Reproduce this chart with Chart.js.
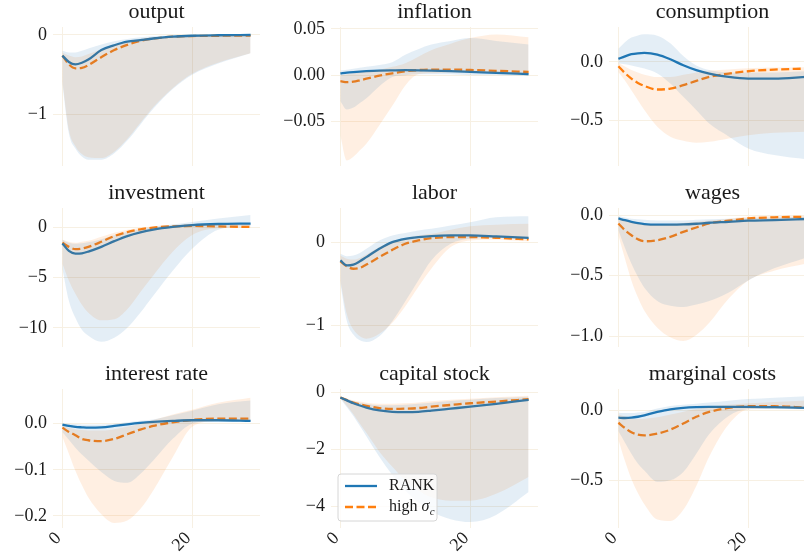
<!DOCTYPE html>
<html>
<head>
<meta charset="utf-8">
<script src="https://cdn.jsdelivr.net/npm/chart.js@4.4.1/dist/chart.umd.min.js"></script>
<style>
  html, body { margin: 0; padding: 0; background: #fff; overflow: hidden; }
  #grid { position: relative; width: 804px; height: 554px; overflow: hidden; }
  #grid canvas { position: absolute; }
</style>
</head>
<body>
<div id="grid"></div>
<script>
// impulse responses, periods 0..29 (read at these horizons)
const periods = [0, 1, 2, 3, 4, 6, 8, 10, 12, 14, 17, 20, 24, 29];
const seriesNames = ["RANK", "high σ_c"];
const titles = ["output", "inflation", "consumption", "investment", "labor", "wages",
  "interest rate", "capital stock", "marginal costs"];
const xTicks = [0, 20];

const outputRank   = [-0.26, -0.34, -0.37, -0.35, -0.31, -0.19, -0.13, -0.085, -0.065, -0.045, -0.022, -0.01, -0.004, -0.001];
const outputHigh   = [-0.26, -0.37, -0.42, -0.415, -0.38, -0.28, -0.19, -0.125, -0.075, -0.045, -0.022, -0.014, -0.01, -0.008];
const outputRankLo = [-0.62, -1.24, -1.43, -1.53, -1.57, -1.57, -1.49, -1.33, -1.13, -0.93, -0.68, -0.5, -0.36, -0.23];
const outputRankHi = [-0.2, -0.22, -0.22, -0.2, -0.17, -0.12, -0.08, -0.05, -0.03, -0.015, -0.006, -0.002, 0.0, 0.0];
const outputHighLo = [-0.58, -1.2, -1.4, -1.5, -1.54, -1.55, -1.47, -1.31, -1.11, -0.91, -0.67, -0.49, -0.35, -0.23];
const outputHighHi = [-0.22, -0.26, -0.28, -0.27, -0.24, -0.18, -0.12, -0.08, -0.05, -0.03, -0.015, -0.008, -0.004, -0.002];
const outputTicks  = [0, -1];

const inflRank   = [0.002, 0.0028, 0.0034, 0.0039, 0.0043, 0.0049, 0.0052, 0.0054, 0.0053, 0.005, 0.0044, 0.0036, 0.0025, 0.0012];
const inflHigh   = [-0.0065, -0.0075, -0.007, -0.0055, -0.0038, -0.0005, 0.002, 0.0042, 0.0055, 0.006, 0.0061, 0.0056, 0.0047, 0.0035];
const inflRankLo = [-0.028, -0.037, -0.035, -0.03, -0.025, -0.012, -0.002, 0.0, 0.001, 0.001, 0.001, 0.0, 0.0, -0.001];
const inflRankHi = [0.005, 0.006, 0.007, 0.008, 0.009, 0.011, 0.014, 0.022, 0.028, 0.033, 0.037, 0.04, 0.037, 0.033];
const inflHighLo = [-0.065, -0.092, -0.088, -0.081, -0.074, -0.054, -0.033, -0.011, 0.001, 0.002, 0.003, 0.003, 0.002, 0.001];
const inflHighHi = [0.0, 0.001, 0.002, 0.003, 0.004, 0.006, 0.009, 0.013, 0.02, 0.027, 0.034, 0.04, 0.044, 0.041];
const inflTicks  = [0.05, 0, -0.05];

const consRank   = [0.026, 0.048, 0.066, 0.074, 0.077, 0.063, 0.023, -0.029, -0.071, -0.1, -0.129, -0.143, -0.143, -0.129];
const consHigh   = [-0.037, -0.095, -0.143, -0.18, -0.206, -0.237, -0.229, -0.2, -0.163, -0.129, -0.1, -0.08, -0.066, -0.057];
const consRankLo = [-0.014, -0.02, -0.03, -0.043, -0.057, -0.1, -0.186, -0.3, -0.414, -0.53, -0.64, -0.743, -0.8, -0.837];
const consRankHi = [0.114, 0.17, 0.209, 0.228, 0.237, 0.225, 0.16, 0.05, -0.03, -0.07, -0.09, -0.09, -0.09, -0.08];
const consHighLo = [-0.086, -0.16, -0.243, -0.33, -0.414, -0.557, -0.643, -0.677, -0.694, -0.686, -0.657, -0.629, -0.609, -0.6];
const consHighHi = [-0.01, -0.04, -0.07, -0.09, -0.11, -0.13, -0.13, -0.11, -0.09, -0.075, -0.065, -0.055, -0.048, -0.045];
const consTicks  = [0, -0.5];

const invRank   = [-1.58, -2.32, -2.59, -2.56, -2.39, -1.92, -1.35, -0.84, -0.47, -0.2, 0.07, 0.25, 0.36, 0.4];
const invHigh   = [-1.52, -1.92, -2.15, -2.09, -1.92, -1.41, -0.84, -0.44, -0.17, 0.0, 0.13, 0.17, 0.12, 0.07];
const invRankLo = [-4.1, -7.3, -9.0, -10.2, -10.8, -11.4, -11.0, -10.0, -8.5, -6.8, -4.3, -2.1, -0.2, 0.2];
const invRankHi = [-1.2, -1.5, -1.6, -1.55, -1.45, -1.15, -0.75, -0.4, -0.15, 0.05, 0.3, 0.55, 0.9, 1.25];
const invHighLo = [-3.6, -5.3, -6.6, -7.7, -8.5, -9.26, -9.16, -8.15, -6.46, -4.78, -2.42, -0.74, -0.07, 0.0];
const invHighHi = [-1.2, -1.4, -1.5, -1.4, -1.3, -0.9, -0.5, -0.2, 0.0, 0.15, 0.28, 0.33, 0.33, 0.3];
const invTicks  = [0, -5, -10];

const labRank   = [-0.22, -0.28, -0.27, -0.23, -0.18, -0.08, 0.0, 0.04, 0.06, 0.073, 0.08, 0.08, 0.069, 0.052];
const labHigh   = [-0.23, -0.29, -0.32, -0.31, -0.27, -0.18, -0.093, -0.02, 0.02, 0.048, 0.06, 0.06, 0.052, 0.032];
const labRankLo = [-0.5, -0.95, -1.11, -1.18, -1.2, -1.13, -0.95, -0.71, -0.46, -0.22, -0.02, 0.04, 0.05, 0.04];
const labRankHi = [-0.14, -0.17, -0.16, -0.13, -0.08, 0.02, 0.08, 0.11, 0.14, 0.16, 0.2, 0.24, 0.3, 0.31];
const labHighLo = [-0.46, -0.87, -1.05, -1.13, -1.16, -1.1, -0.97, -0.77, -0.54, -0.32, -0.06, 0.02, 0.03, 0.01];
const labHighHi = [-0.16, -0.2, -0.21, -0.19, -0.15, -0.06, 0.01, 0.05, 0.08, 0.1, 0.15, 0.19, 0.21, 0.22];
const labTicks  = [0, -1];

const wageRank   = [-0.028, -0.043, -0.056, -0.067, -0.075, -0.08, -0.08, -0.078, -0.072, -0.064, -0.056, -0.047, -0.042, -0.033];
const wageHigh   = [-0.07, -0.125, -0.167, -0.2, -0.217, -0.208, -0.18, -0.139, -0.103, -0.07, -0.047, -0.028, -0.019, -0.014];
const wageRankLo = [-0.125, -0.27, -0.4, -0.51, -0.6, -0.71, -0.75, -0.76, -0.74, -0.71, -0.64, -0.54, -0.44, -0.35];
const wageRankHi = [-0.01, -0.02, -0.03, -0.035, -0.04, -0.045, -0.045, -0.045, -0.04, -0.035, -0.03, -0.025, -0.02, -0.015];
const wageHighLo = [-0.167, -0.36, -0.54, -0.68, -0.79, -0.93, -1.01, -1.04, -0.99, -0.89, -0.69, -0.54, -0.46, -0.4];
const wageHighHi = [-0.03, -0.045, -0.06, -0.07, -0.08, -0.08, -0.075, -0.065, -0.055, -0.045, -0.03, -0.015, -0.008, -0.005];
const wageTicks  = [0, -0.5, -1];

const rateRank   = [-0.002, -0.005, -0.007, -0.008, -0.0087, -0.008, -0.005, -0.0015, 0.0015, 0.0036, 0.0058, 0.0073, 0.0073, 0.0058];
const rateHigh   = [-0.0087, -0.018, -0.025, -0.033, -0.036, -0.038, -0.033, -0.023, -0.013, -0.005, 0.003, 0.008, 0.011, 0.011];
const rateRankLo = [-0.018, -0.035, -0.052, -0.067, -0.08, -0.105, -0.124, -0.128, -0.109, -0.08, -0.033, 0.0, 0.006, 0.005];
const rateRankHi = [0.001, 0.0, -0.001, -0.002, -0.002, -0.002, 0.0, 0.003, 0.006, 0.009, 0.018, 0.028, 0.042, 0.05];
const rateHighLo = [-0.029, -0.065, -0.102, -0.133, -0.16, -0.196, -0.215, -0.21, -0.185, -0.145, -0.073, -0.007, 0.006, 0.008];
const rateHighHi = [-0.005, -0.009, -0.012, -0.014, -0.015, -0.015, -0.012, -0.007, 0.0, 0.008, 0.02, 0.03, 0.045, 0.056];
const rateTicks  = [0, -0.1, -0.2];

const capRank   = [-0.18, -0.28, -0.38, -0.46, -0.53, -0.63, -0.68, -0.69, -0.68, -0.64, -0.57, -0.5, -0.4, -0.26];
const capHigh   = [-0.18, -0.27, -0.36, -0.42, -0.47, -0.55, -0.58, -0.57, -0.55, -0.5, -0.44, -0.38, -0.32, -0.24];
const capRankLo = [-0.21, -0.52, -0.83, -1.18, -1.54, -2.26, -2.9, -3.44, -3.86, -4.18, -4.45, -4.55, -4.3, -3.5];
const capRankHi = [-0.15, -0.22, -0.3, -0.36, -0.4, -0.45, -0.45, -0.43, -0.4, -0.36, -0.3, -0.26, -0.2, -0.15];
const capHighLo = [-0.2, -0.48, -0.77, -1.1, -1.42, -2.08, -2.61, -3.09, -3.44, -3.68, -3.8, -3.8, -3.56, -2.97];
const capHighHi = [-0.15, -0.21, -0.28, -0.32, -0.36, -0.4, -0.4, -0.38, -0.35, -0.31, -0.26, -0.22, -0.17, -0.12];
const capTicks  = [0, -2, -4];

const mcRank   = [-0.053, -0.055, -0.053, -0.046, -0.036, -0.012, 0.007, 0.017, 0.022, 0.024, 0.024, 0.024, 0.022, 0.017];
const mcHigh   = [-0.089, -0.126, -0.157, -0.174, -0.179, -0.167, -0.138, -0.094, -0.046, -0.012, 0.017, 0.029, 0.029, 0.019];
const mcRankLo = [-0.15, -0.23, -0.31, -0.38, -0.43, -0.51, -0.5, -0.44, -0.31, -0.17, -0.04, 0.007, 0.01, 0.008];
const mcRankHi = [-0.017, -0.02, -0.02, -0.015, -0.012, 0.012, 0.03, 0.04, 0.047, 0.055, 0.068, 0.08, 0.09, 0.1];
const mcHighLo = [-0.21, -0.36, -0.49, -0.59, -0.67, -0.78, -0.79, -0.71, -0.54, -0.33, -0.1, 0.007, 0.012, 0.012];
const mcHighHi = [-0.03, -0.045, -0.06, -0.062, -0.06, -0.05, -0.03, -0.01, 0.01, 0.025, 0.04, 0.05, 0.06, 0.07];
const mcTicks  = [0, -0.5];

// panel table: series + axis limits / tick decimals
const panels = [
  { lines: [outputRank, outputHigh], bands: [outputRankLo, outputRankHi, outputHighLo, outputHighHi], ticks: outputTicks, dec: 0, min: -1.65, max: 0.1 },
  { lines: [inflRank, inflHigh], bands: [inflRankLo, inflRankHi, inflHighLo, inflHighHi], ticks: inflTicks, dec: 2, min: -0.098, max: 0.052 },
  { lines: [consRank, consHigh], bands: [consRankLo, consRankHi, consHighLo, consHighHi], ticks: consTicks, dec: 1, min: -0.894, max: 0.3 },
  { lines: [invRank, invHigh], bands: [invRankLo, invRankHi, invHighLo, invHighHi], ticks: invTicks, dec: 0, min: -11.92, max: 1.96 },
  { lines: [labRank, labHigh], bands: [labRankLo, labRankHi, labHighLo, labHighHi], ticks: labTicks, dec: 0, min: -1.26, max: 0.41 },
  { lines: [wageRank, wageHigh], bands: [wageRankLo, wageRankHi, wageHighLo, wageHighHi], ticks: wageTicks, dec: 1, min: -1.09, max: 0.058 },
  { lines: [rateRank, rateHigh], bands: [rateRankLo, rateRankHi, rateHighLo, rateHighHi], ticks: rateTicks, dec: 1, min: -0.226, max: 0.075 },
  { lines: [capRank, capHigh], bands: [capRankLo, capRankHi, capHighLo, capHighHi], ticks: capTicks, dec: 0, min: -4.76, max: 0.12, legend: true },
  { lines: [mcRank, mcHigh], bands: [mcRankLo, mcRankHi, mcHighLo, mcHighHi], ticks: mcTicks, dec: 1, min: -0.84, max: 0.152 },
];

const BLUE = "#1f77b4";
const ORANGE = "#ff7f0e";
const BLUE_FILL = "rgba(31,119,180,0.12)";
const ORANGE_FILL = "rgba(255,127,14,0.12)";
const GRID_COLOR = "#f7f0e3";
const TEXT = "#1a1a1a";
const FONT = "'Liberation Serif', 'DejaVu Serif', serif";

const COL_LEFT = [53, 331, 609];
const ROW_TOP = [27, 208, 389];
const PLOT_W = 207;
const PLOT_H = 139;
const Y_W = 52;
const TITLE_H = 27;

Chart.defaults.font.family = FONT;
Chart.defaults.color = TEXT;
Chart.defaults.animation = false;

function fmtTick(v, dec) {
  const s = Math.abs(v) < 1e-12 ? (0).toFixed(dec) : v.toFixed(dec);
  return s.replace("-", "\u2212");
}

function drawLabel(ctx, text, x, y) {
  ctx.textBaseline = "middle";
  ctx.textAlign = "left";
  ctx.fillStyle = TEXT;
  const [main, sub] = text.split("_");
  const greek = main.match(/[\u03b1-\u03c9]$/);
  const body = greek ? main.slice(0, -1) : main;
  ctx.font = "16px " + FONT;
  ctx.fillText(body, x, y);
  x += ctx.measureText(body).width;
  if (greek) {
    ctx.font = "italic 16px " + FONT;
    ctx.fillText(greek[0], x, y);
    x += ctx.measureText(greek[0]).width;
  }
  if (sub) {
    ctx.font = "italic 11px " + FONT;
    ctx.fillText(sub, x + 0.5, y + 5);
  }
}

// legend box drawn inside the capital stock panel
const legendBox = {
  id: "legendBox",
  afterDatasetsDraw(chart) {
    const { ctx, chartArea: a } = chart;
    const x = a.left + 7, y = a.bottom - 54;
    ctx.save();
    ctx.beginPath();
    ctx.roundRect(x, y, 99, 47, 3);
    ctx.fillStyle = "rgba(255,255,255,0.8)";
    ctx.fill();
    ctx.strokeStyle = "#d6d6d6";
    ctx.lineWidth = 1;
    ctx.stroke();
    [4, 5].forEach((di, k) => {
      const ds = chart.data.datasets[di];
      const ly = y + 12 + k * 21;
      ctx.beginPath();
      ctx.setLineDash(ds.borderDash || []);
      ctx.strokeStyle = ds.borderColor;
      ctx.lineWidth = ds.borderWidth;
      ctx.moveTo(x + 7, ly);
      ctx.lineTo(x + 39, ly);
      ctx.stroke();
      ctx.setLineDash([]);
      drawLabel(ctx, ds.label, x + 51, ly);
    });
    ctx.restore();
  },
};

function pts(arr) {
  return periods.map((p, i) => ({ x: p, y: arr[i] }));
}

function bandSet(arr, fill) {
  return {
    data: pts(arr),
    borderWidth: 0,
    pointRadius: 0,
    backgroundColor: fill || "transparent",
    fill: fill ? "-1" : false,
    cubicInterpolationMode: "monotone",
  };
}

const grid = document.getElementById("grid");

panels.forEach((p, i) => {
  const row = Math.floor(i / 3), col = i % 3;
  const bottomRow = row === 2;
  const xH = bottomRow ? 27 : 4;
  const w = Y_W + PLOT_W, h = TITLE_H + PLOT_H + xH;

  const cv = document.createElement("canvas");
  cv.width = w;
  cv.height = h;
  cv.style.left = (COL_LEFT[col] - Y_W) + "px";
  cv.style.top = (ROW_TOP[row] - TITLE_H) + "px";
  cv.style.width = w + "px";
  cv.style.height = h + "px";
  grid.appendChild(cv);

  new Chart(cv, {
    type: "line",
    data: {
      datasets: [
        bandSet(p.bands[0]),
        bandSet(p.bands[1], BLUE_FILL),
        bandSet(p.bands[2]),
        bandSet(p.bands[3], ORANGE_FILL),
        {
          label: seriesNames[0],
          data: pts(p.lines[0]),
          borderColor: BLUE,
          borderWidth: 2.3,
          pointRadius: 0,
          fill: false,
          cubicInterpolationMode: "monotone",
        },
        {
          label: seriesNames[1],
          data: pts(p.lines[1]),
          borderColor: ORANGE,
          borderWidth: 2.3,
          borderDash: [8, 3.5],
          pointRadius: 0,
          fill: false,
          cubicInterpolationMode: "monotone",
        },
      ],
    },
    options: {
      responsive: false,
      animation: false,
      layout: { padding: 0 },
      plugins: {
        legend: { display: false },
        tooltip: { enabled: false },
        title: {
          display: true,
          text: titles[i],
          fullSize: false,
          color: TEXT,
          font: { size: 22, weight: "normal", lineHeight: 1.1 },
          padding: { top: 0, bottom: 2.8 },
        },
      },
      scales: {
        x: {
          type: "linear",
          min: -1.45,
          max: 30.45,
          afterBuildTicks: (s) => { s.ticks = xTicks.map((v) => ({ value: v })); },
          afterFit: (s) => { s.height = xH; s.paddingLeft = 0; s.paddingRight = 0; },
          grid: { color: GRID_COLOR, lineWidth: 1, drawTicks: false },
          border: { display: false },
          ticks: {
            display: bottomRow,
            autoSkip: false,
            minRotation: 45,
            maxRotation: 45,
            padding: 0,
            labelOffset: -4,
            color: TEXT,
            font: { size: 18 },
            callback: (v) => String(v),
          },
        },
        y: {
          min: p.min,
          max: p.max,
          afterBuildTicks: (s) => { s.ticks = p.ticks.map((v) => ({ value: v })); },
          afterFit: (s) => { s.width = Y_W; s.paddingTop = 0; s.paddingBottom = 0; },
          grid: { color: GRID_COLOR, lineWidth: 1, drawTicks: false },
          border: { display: false },
          ticks: {
            padding: 6,
            color: TEXT,
            font: { size: 18 },
            callback: (v) => fmtTick(v, p.dec),
          },
        },
      },
    },
    plugins: p.legend ? [legendBox] : [],
  });
});
</script>
</body>
</html>
